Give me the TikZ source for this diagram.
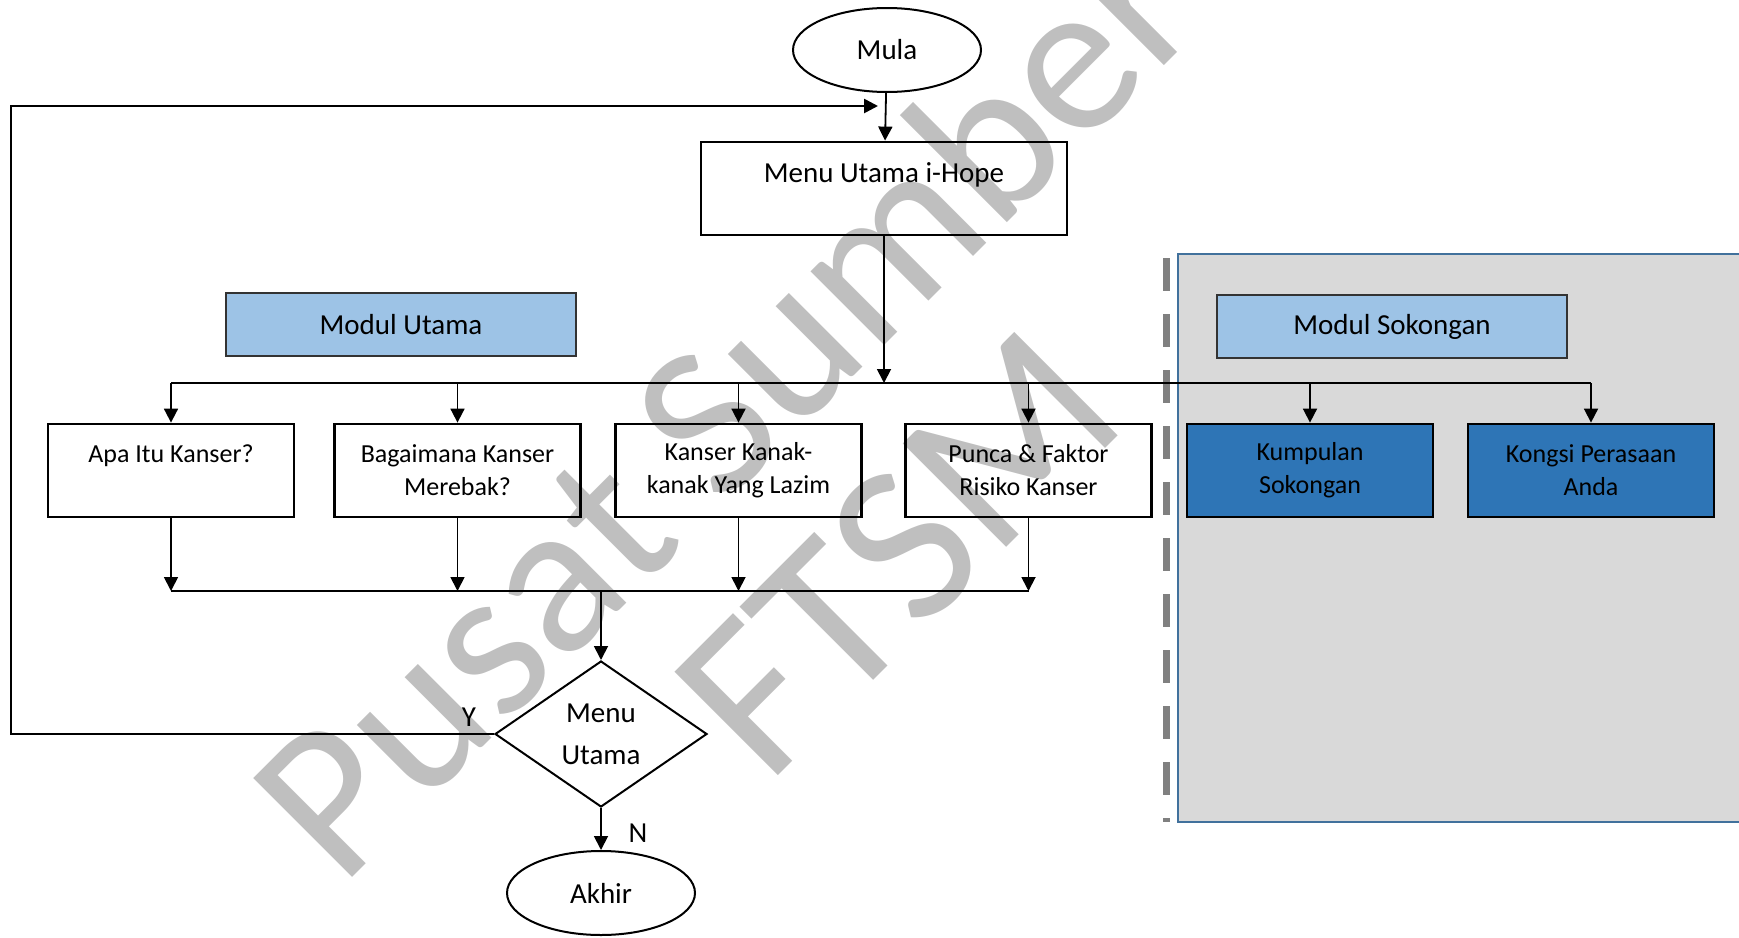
\documentclass[tikz,border=0pt]{standalone}
\usepackage{fontspec}
\setmainfont{Carlito}
\usetikzlibrary{arrows.meta,shapes.geometric}
\definecolor{panel_gray}{RGB}{217,217,217}
\definecolor{panel_edge}{RGB}{65,113,156}
\definecolor{dash_gray}{RGB}{128,128,128}
\definecolor{head_blue}{RGB}{157,195,230}
\definecolor{sub_blue}{RGB}{46,117,182}
\definecolor{mark_gray}{RGB}{191,191,191}

\begin{document}
\begin{tikzpicture}[->,>={Triangle[length=7pt,width=7pt]},line width=0.9pt,x=0.5pt,y=-0.5pt]
    \tikzstyle{txt}=[font=\fontsize{14.5}{21}\selectfont]
    \tikzstyle{term}=[style=txt,draw,ellipse,line width=1pt,minimum width=94pt,minimum height=42pt]
    \tikzstyle{box}=[draw,rectangle,line width=1.4pt,minimum width=123pt,minimum height=46.5pt,align=center,font=\fontsize{13}{16.5}\selectfont]
    \tikzstyle{sub}=[style=box,fill=sub_blue]
    \tikzstyle{head}=[style=txt,draw=black!80,line width=0.6pt,fill=head_blue,minimum width=175pt,minimum height=31.5pt]
    \tikzstyle{dec}=[style=txt,draw,diamond,line width=1pt,minimum width=106pt,minimum height=73pt,inner sep=0pt,align=center]
    \tikzstyle{bus}=[-,line width=0.6pt]
    \tikzstyle{wmark}=[text=mark_gray,rotate=45]

    \useasboundingbox (0,0) rectangle (1739,937);

    % panel sokongan
    \fill[panel_gray] (1178,254) rectangle (1739,822);
    \draw[-,panel_edge,line width=0.8pt] (1739,254) -- (1178,254) -- (1178,822) -- (1739,822);
    \draw[-,dash_gray,line width=3.5pt,dash pattern=on 16.5pt off 11.5pt] (1166,258) -- (1166,822);

    % watermark
    \node[wmark,font=\fontsize{109}{109}\selectfont] (wm1) at (722,402) {Pusat Sumber};
    \node[wmark,font=\fontsize{114}{114}\selectfont] (wm2) at (898,553) {FTSM};

    \node[term] (mula) at (887,50) {Mula};
    \node[box,minimum width=183pt,font=\fontsize{14.5}{15.5}\selectfont] (menu) at (884,188.5) {Menu Utama i-Hope\\~};
    \node[head] (modu) at (401,324.5) {Modul Utama};
    \node[head] (mods) at (1392,326.5) {Modul Sokongan};

    \node[box] (apa)   at (171,470.5)   {Apa Itu Kanser?\\~};
    \node[box] (baga)  at (457.5,470.5) {Bagaimana Kanser\\Merebak?};
    \node[box] (kanak) at (738.5,470.5) {Kanser Kanak-\\kanak Yang Lazim};
    \node[box] (punca) at (1028.5,470.5) {Punca \& Faktor\\Risiko Kanser};
    \node[sub] (kump)  at (1310,470.5)  {Kumpulan\\Sokongan};
    \node[sub] (kong)  at (1591,470.5)  {Kongsi Perasaan\\Anda};

    \node[dec]  (pilih) at (601,734) {Menu\\Utama};
    \node[term] (akhir) at (601,893) {Akhir};
    \node[txt]  (ya)    at (469,717) {Y};
    \node[txt]  (tidak) at (638,833) {N};

    \coordinate (split) at (884,383);
    \coordinate (join)  at (601,591);
    \coordinate (back)  at (11,106);
    \coordinate (backend) at (878,106);

    \draw[bus] (apa.north |- split) -- (kong.north |- split);
    \draw[bus] (apa.south |- join) -- (punca.south |- join);

    \path
     (mula) edge (menu)
     (menu) edge (split)
     (apa.north |- split) edge (apa)
     (baga.north |- split) edge (baga)
     (kanak.north |- split) edge (kanak)
     (punca.north |- split) edge (punca)
     (kump.north |- split) edge (kump)
     (kong.north |- split) edge (kong)
     (apa) edge (apa.south |- join)
     (baga) edge (baga.south |- join)
     (kanak) edge (kanak.south |- join)
     (punca) edge (punca.south |- join)
     (join) edge (pilih)
     (pilih) edge (akhir)
     ;
    \draw[line width=1.3pt] (pilih.west) -| (back) -- (backend);
\end{tikzpicture}
\end{document}
